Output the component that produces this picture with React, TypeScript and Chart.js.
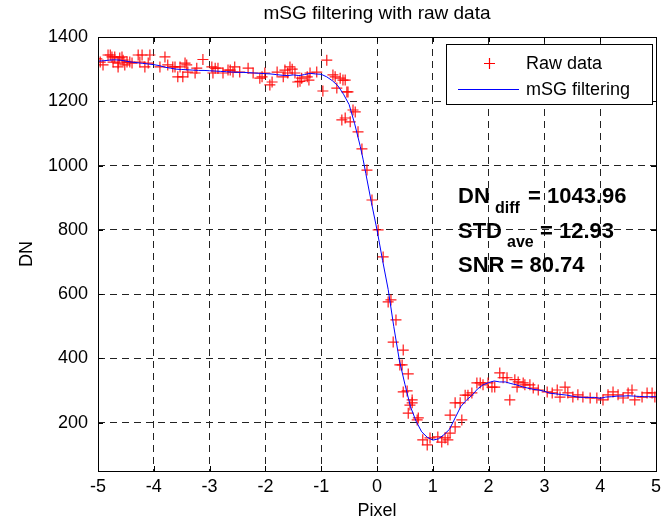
import React, { useEffect, useRef } from "react";
import { Chart, registerables } from "chart.js";

Chart.register(...registerables);

const xTicks = [-5, -4, -3, -2, -1, 0, 1, 2, 3, 4, 5];
const yTicks = [200, 400, 600, 800, 1000, 1200, 1400];

const rawX = [
  -5.02, -4.96, -4.91, -4.82, -4.78, -4.75, -4.73, -4.7, -4.64, -4.64, -4.61, -4.57, -4.55, -4.52, -4.48, -4.43,
  -4.39, -4.28, -4.25, -4.21, -4.16, -4.1, -4.07, -3.89, -3.8, -3.75, -3.66, -3.62, -3.57, -3.53, -3.48, -3.44,
  -3.41, -3.39, -3.26, -3.23, -3.12, -2.96, -2.94, -2.9, -2.85, -2.76, -2.67, -2.63, -2.58, -2.55, -2.46, -2.31,
  -2.22, -2.1, -2.06, -2.01, -1.92, -1.88, -1.79, -1.68, -1.65, -1.6, -1.56, -1.52, -1.47, -1.42, -1.38, -1.35,
  -1.25, -1.22, -1.2, -1.08, -0.97, -0.9, -0.79, -0.75, -0.72, -0.66, -0.61, -0.57, -0.63, -0.57, -0.54, -0.52,
  -0.48, -0.43, -0.39, -0.34, -0.27, -0.18, -0.09, 0.02, 0.11, 0.2, 0.25, 0.29, 0.34, 0.41, 0.45, 0.47,
  0.47, 0.54, 0.56, 0.56, 0.59, 0.63, 0.63, 0.72, 0.74, 0.82, 0.9, 0.95, 1.09, 1.16, 1.22, 1.27,
  1.31, 1.31, 1.4, 1.4, 1.49, 1.52, 1.58, 1.63, 1.7, 1.79, 1.85, 1.9, 1.99, 2.06, 2.11, 2.2,
  2.26, 2.33, 2.38, 2.47, 2.51, 2.53, 2.62, 2.65, 2.74, 2.8, 2.89, 3.05, 3.14, 3.23, 3.28, 3.37,
  3.42, 3.51, 3.6, 3.69, 3.82, 3.94, 4.05, 4.14, 4.23, 4.32, 4.41, 4.5, 4.57, 4.62, 4.75, 4.84,
  4.93, 4.98,
];
const rawY = [
  1332, 1322, 1313, 1344, 1344, 1338, 1322, 1338, 1319, 1307, 1335, 1338, 1328, 1313, 1322, 1322,
  1319, 1344, 1322, 1344, 1307, 1319, 1344, 1307, 1338, 1313, 1307, 1307, 1276, 1307, 1276, 1319,
  1313, 1291, 1288, 1303, 1330, 1307, 1288, 1303, 1303, 1288, 1297, 1297, 1291, 1307, 1291, 1303,
  1288, 1272, 1276, 1288, 1251, 1260, 1291, 1276, 1297, 1288, 1307, 1300, 1288, 1260, 1262, 1272,
  1276, 1266, 1288, 1291, 1232, 1328, 1282, 1276, 1241, 1272, 1266, 1266, 1142, 1148, 1229, 1229,
  1136, 1173, 1167, 1105, 1052, 986, 893, 800, 716, 576, 582, 451, 520, 380, 380, 426,
  296, 299, 352, 230, 255, 271, 262, 209, 215, 147, 131, 153, 156, 140, 153, 147,
  168, 224, 187, 262, 262, 209, 286, 286, 293, 324, 324, 318, 324, 311, 311, 355,
  340, 340, 271, 334, 311, 327, 324, 318, 318, 308, 302, 296, 293, 302, 280, 311,
  293, 280, 287, 280, 277, 277, 271, 287, 296, 287, 277, 293, 302, 271, 280, 293,
  293, 280,
];

const fitX = [
  -5.0, -4.9, -4.8, -4.7, -4.6, -4.5, -4.4, -4.3, -4.2, -4.1, -4.0, -3.9, -3.8, -3.7, -3.6, -3.5,
  -3.4, -3.3, -3.2, -3.1, -3.0, -2.9, -2.8, -2.7, -2.6, -2.5, -2.4, -2.3, -2.2, -2.1, -2.0, -1.9,
  -1.8, -1.7, -1.6, -1.5, -1.4, -1.3, -1.2, -1.1, -1.0, -0.9, -0.8, -0.7, -0.6, -0.5, -0.4, -0.3,
  -0.25, -0.2, -0.1, 0.0, 0.1, 0.2, 0.3, 0.4, 0.5, 0.6, 0.7, 0.8, 0.9, 1.0, 1.1, 1.2,
  1.3, 1.4, 1.5, 1.6, 1.7, 1.8, 1.9, 2.0, 2.1, 2.2, 2.3, 2.4, 2.5, 2.6, 2.7, 2.8,
  2.9, 3.0, 3.1, 3.2, 3.3, 3.4, 3.5, 3.6, 3.7, 3.8, 3.9, 4.0, 4.1, 4.2, 4.3, 4.4,
  4.5, 4.6, 4.7, 4.8, 4.9, 5.0,
];
const fitY = [
  1325, 1326, 1328, 1329, 1328, 1325, 1322, 1320, 1318, 1316, 1314, 1311, 1306, 1303, 1300, 1299,
  1298, 1297, 1296, 1296, 1295, 1294, 1293, 1292, 1291, 1290, 1290, 1289, 1288, 1287, 1286, 1285,
  1283, 1281, 1280, 1282, 1280, 1283, 1287, 1285, 1284, 1276, 1264, 1248, 1222, 1190, 1130, 1060,
  1020, 975, 885, 800, 705, 615, 500, 395, 320, 250, 205, 172, 155, 146, 150, 163,
  180, 215, 250, 270, 285, 305, 318, 325, 330, 327, 327, 322, 318, 312, 308, 304,
  302, 298, 292, 290, 288, 286, 283, 280, 279, 279, 279, 276, 280, 281, 283, 283,
  284, 283, 282, 281, 281, 281,
];

const FONT = '"Liberation Sans", Arial, Helvetica, sans-serif';

const decorPlugin = {
  id: "decor",
  afterDatasetsDraw(chart: any) {
    const { ctx, chartArea } = chart;
    const { left, right, top, bottom } = chartArea;
    const xs = chart.scales.x;
    const ys = chart.scales.y;
    ctx.save();
    ctx.setLineDash([]);
    ctx.lineWidth = 1;
    // title
    ctx.fillStyle = "#000";
    ctx.font = `19px ${FONT}`;
    ctx.textAlign = "center";
    ctx.textBaseline = "middle";
    ctx.fillText("mSG filtering with raw data", (left + right) / 2, 14);

    // frame
    ctx.strokeStyle = "#000";
    ctx.strokeRect(Math.round(left) + 0.5, Math.round(top) + 0.5, Math.round(right - left), Math.round(bottom - top));
    // inward ticks
    ctx.beginPath();
    for (const v of xTicks) {
      const p = Math.round(xs.getPixelForValue(v)) + 0.5;
      ctx.moveTo(p, bottom);
      ctx.lineTo(p, bottom - 5);
      ctx.moveTo(p, top);
      ctx.lineTo(p, top + 5);
    }
    for (const v of yTicks) {
      const p = Math.round(ys.getPixelForValue(v)) + 0.5;
      ctx.moveTo(left, p);
      ctx.lineTo(left + 5, p);
      ctx.moveTo(right, p);
      ctx.lineTo(right - 5, p);
    }
    ctx.stroke();

    // annotation text
    ctx.fillStyle = "#000";
    ctx.textBaseline = "alphabetic";
    ctx.textAlign = "left";
    const big = `bold 22px ${FONT}`;
    const small = `bold 16px ${FONT}`;
    ctx.font = big;
    ctx.fillText("DN", 458, 203);
    ctx.font = small;
    ctx.fillText("diff", 495, 213);
    ctx.font = big;
    ctx.fillText("= 1043.96", 528, 203);
    ctx.fillText("STD", 458, 238);
    ctx.font = small;
    ctx.fillText("ave", 507, 247);
    ctx.font = big;
    ctx.fillText("= 12.93", 540, 238);
    ctx.fillText("SNR = 80.74", 458, 272);

    // legend
    const lx = 446.5, ly = 44.5, lw = 206, lh = 60;
    ctx.fillStyle = "#ffffff";
    ctx.fillRect(lx, ly, lw, lh);
    ctx.strokeStyle = "#000000";
    ctx.strokeRect(lx, ly, lw, lh);
    ctx.lineWidth = 1.2;
    ctx.strokeStyle = "#ff0000";
    ctx.beginPath();
    ctx.moveTo(484, 63.5);
    ctx.lineTo(495, 63.5);
    ctx.moveTo(489.5, 58);
    ctx.lineTo(489.5, 69);
    ctx.stroke();
    ctx.strokeStyle = "#0000ff";
    ctx.beginPath();
    ctx.moveTo(458, 89.5);
    ctx.lineTo(519, 89.5);
    ctx.stroke();
    ctx.fillStyle = "#000";
    ctx.font = `18px ${FONT}`;
    ctx.textBaseline = "middle";
    ctx.fillText("Raw data", 526, 64);
    ctx.fillText("mSG filtering", 526, 90);
    ctx.restore();
  },
};

export default function App() {
  const ref = useRef<HTMLCanvasElement | null>(null);
  useEffect(() => {
    if (!ref.current) return;
    const chart = new Chart(ref.current, {
      type: "scatter",
      data: {
        datasets: [
          {
            label: "Raw data",
            data: rawX.map((x, i) => ({ x, y: rawY[i] })),
            pointStyle: "cross",
            pointRadius: 5.5,
            pointBorderColor: "rgba(255,0,0,0.9)",
            pointBorderWidth: 1.2,
            showLine: false,
            order: 1,
          },
          {
            label: "mSG filtering",
            type: "line",
            data: fitX.map((x, i) => ({ x, y: fitY[i] })),
            borderColor: "#0000ff",
            borderWidth: 1,
            pointRadius: 0,
            tension: 0,
            fill: false,
            order: 0,
          } as any,
        ],
      },
      options: {
        responsive: false,
        animation: false,
        layout: { padding: { left: 0, right: 11, top: 37, bottom: 0 } },
        plugins: {
          legend: { display: false },
          tooltip: { enabled: false },
          title: { display: false },
        },
        scales: {
          x: {
            type: "linear",
            min: -5,
            max: 5,
            afterBuildTicks: (s: any) => {
              s.ticks = xTicks.map((v) => ({ value: v }));
            },
            afterFit: (s: any) => {
              s.height = 51;
            },
            ticks: {
              color: "#000",
              font: { family: FONT, size: 18 },
              padding: 5,
              maxRotation: 0,
              autoSkip: false,
              callback: (v: any) => String(v),
            },
            grid: { color: "#222", lineWidth: 1, drawTicks: false },
            border: { display: false, dash: [7, 5] },
            title: {
              display: true,
              text: "Pixel",
              color: "#000",
              font: { family: FONT, size: 18, lineHeight: 1.2 },
              padding: { top: 0, bottom: 0 },
            },
          },
          y: {
            type: "linear",
            min: 50,
            max: 1400,
            afterBuildTicks: (s: any) => {
              s.ticks = yTicks.map((v) => ({ value: v }));
            },
            afterFit: (s: any) => {
              s.width = 98;
            },
            ticks: {
              color: "#000",
              font: { family: FONT, size: 18 },
              padding: 10,
              autoSkip: false,
              callback: (v: any) => String(v),
            },
            grid: { color: "#222", lineWidth: 1, drawTicks: false },
            border: { display: false, dash: [7, 5] },
            title: {
              display: true,
              text: "DN",
              color: "#000",
              font: { family: FONT, size: 18, lineHeight: 1.2 },
              padding: { top: 16, bottom: 0 },
            },
          },
        },
      },
      plugins: [decorPlugin],
    });
    return () => chart.destroy();
  }, []);
  return (
    <div style={{ position: "absolute", left: 0, top: 0, width: 667, height: 522, background: "#fff" }}>
      <canvas ref={ref} width={667} height={522} style={{ display: "block", width: 667, height: 522 }} />
    </div>
  );
}
